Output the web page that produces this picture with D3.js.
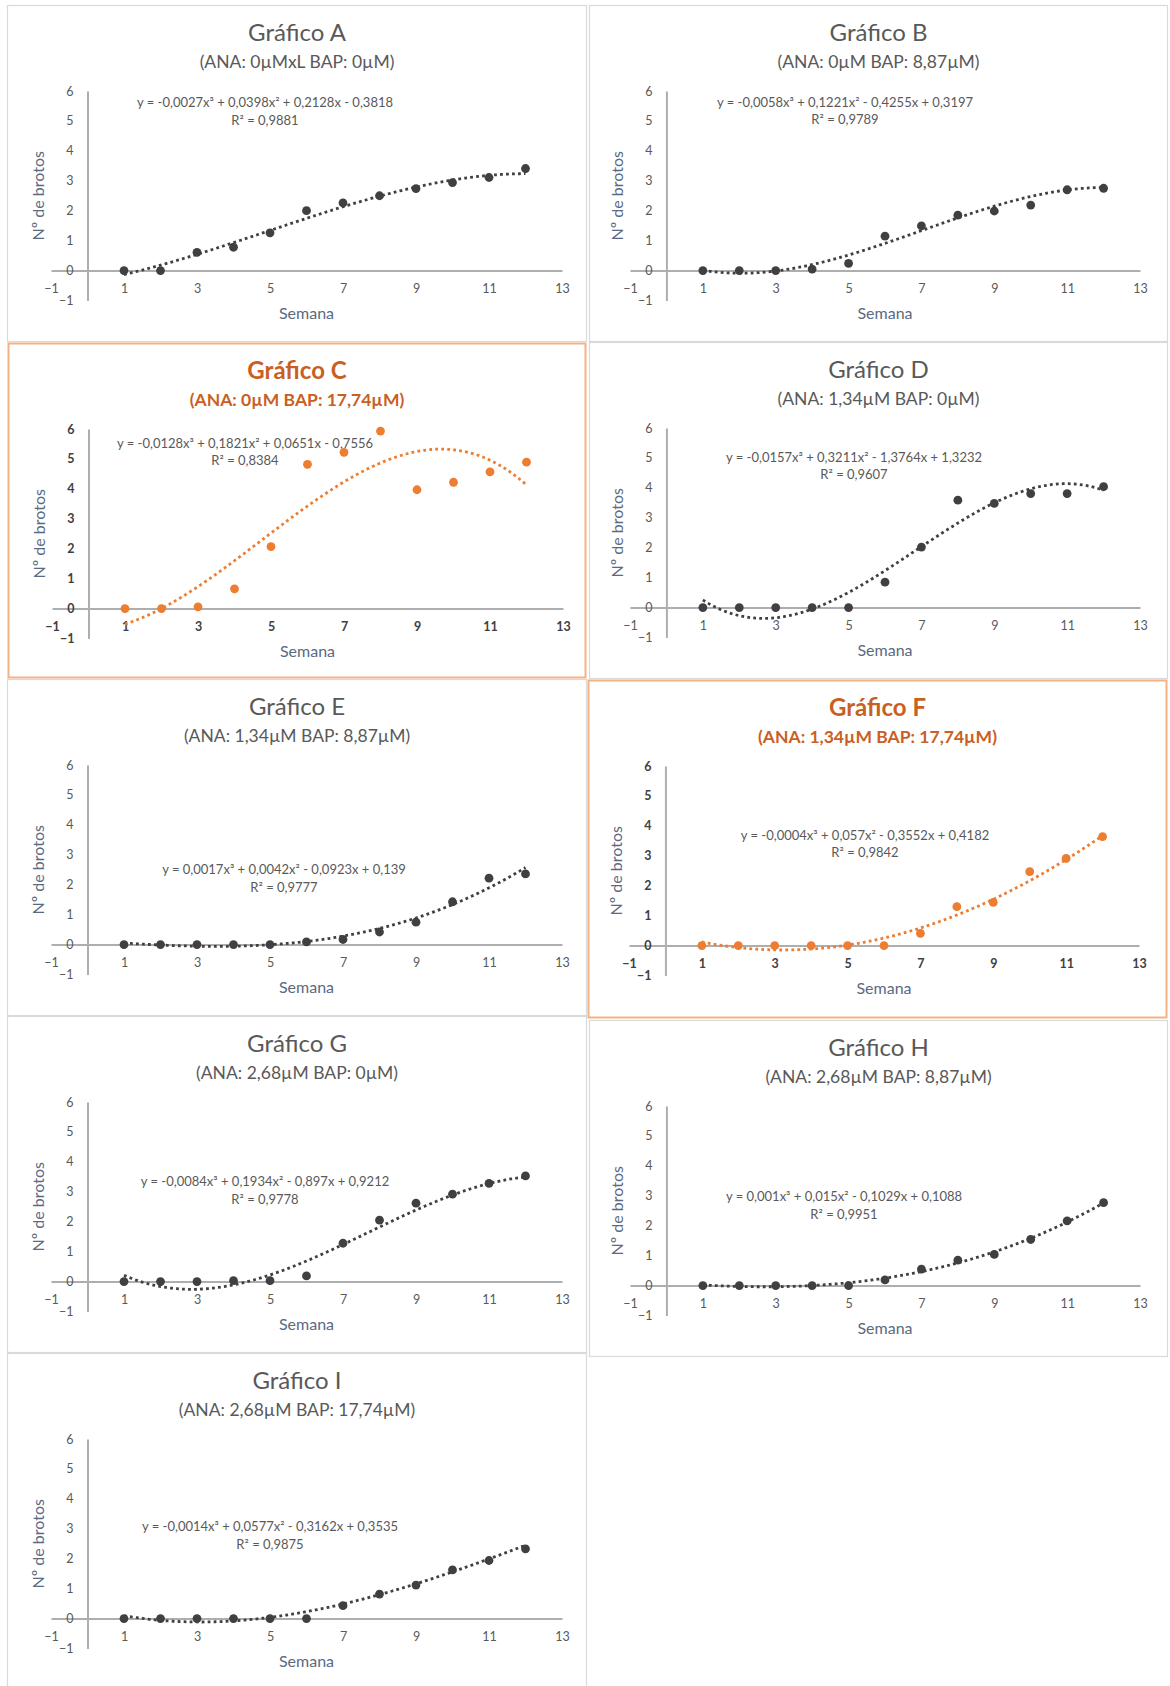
<!DOCTYPE html>
<html>
<head>
<meta charset="utf-8">
<script src="https://cdn.jsdelivr.net/npm/d3@7"></script>
<style>
  html, body { margin: 0; padding: 0; background: #ffffff; }
  svg { display: block; font-family: Lato, "Open Sans", sans-serif; }
</style>
</head>
<body>
<svg id="chart" width="1170" height="1686"></svg>
<script>
// ---- data -------------------------------------------------------------
const weeks = [1, 2, 3, 4, 5, 6, 7, 8, 9, 10, 11, 12];
const chartNames = ["A", "B", "C", "D", "E", "F", "G", "H", "I"];
const treatments = [
  "(ANA: 0µMxL BAP: 0µM)",
  "(ANA: 0µM BAP: 8,87µM)",
  "(ANA: 0µM BAP: 17,74µM)",
  "(ANA: 1,34µM BAP: 0µM)",
  "(ANA: 1,34µM BAP: 8,87µM)",
  "(ANA: 1,34µM BAP: 17,74µM)",
  "(ANA: 2,68µM BAP: 0µM)",
  "(ANA: 2,68µM BAP: 8,87µM)",
  "(ANA: 2,68µM BAP: 17,74µM)"
];

// mean number of shoots per week, one array per treatment
const brotosA = [0, 0, 0.61, 0.78, 1.26, 2.00, 2.26, 2.50, 2.74, 2.94, 3.11, 3.41];
const brotosB = [0, 0, 0, 0.05, 0.24, 1.15, 1.49, 1.85, 1.99, 2.19, 2.70, 2.75];
const brotosC = [0, 0, 0.06, 0.66, 2.07, 4.82, 5.22, 5.93, 3.97, 4.22, 4.57, 4.89];
const brotosD = [0, 0, 0, 0, 0, 0.85, 2.02, 3.59, 3.48, 3.81, 3.81, 4.04];
const brotosE = [0, 0, 0, 0, 0, 0.09, 0.17, 0.42, 0.75, 1.43, 2.22, 2.36];
const brotosF = [0, 0, 0, 0, 0, 0, 0.41, 1.30, 1.44, 2.47, 2.91, 3.64];
const brotosG = [0, 0, 0, 0.03, 0.03, 0.19, 1.28, 2.05, 2.62, 2.92, 3.28, 3.53];
const brotosH = [0, 0, 0, 0, 0, 0.19, 0.55, 0.85, 1.04, 1.54, 2.16, 2.77];
const brotosI = [0, 0, 0, 0, 0, 0, 0.43, 0.82, 1.12, 1.63, 1.94, 2.33];

// cubic trendline coefficients [x³, x², x, constant]
const coefA = [-0.0027, 0.0398, 0.2128, -0.3818];
const coefB = [-0.0058, 0.1221, -0.4255, 0.3197];
const coefC = [-0.0128, 0.1821, 0.0651, -0.7556];
const coefD = [-0.0157, 0.3211, -1.3764, 1.3232];
const coefE = [0.0017, 0.0042, -0.0923, 0.139];
const coefF = [-0.0004, 0.057, -0.3552, 0.4182];
const coefG = [-0.0084, 0.1934, -0.897, 0.9212];
const coefH = [0.001, 0.015, -0.1029, 0.1088];
const coefI = [-0.0014, 0.0577, -0.3162, 0.3535];
const r2Values = [0.9881, 0.9789, 0.8384, 0.9607, 0.9777, 0.9842, 0.9778, 0.9951, 0.9875];

const highlighted = ["C", "F"];
const xTicks = [-1, 1, 3, 5, 7, 9, 11, 13];
const yTicks = [-1, 0, 1, 2, 3, 4, 5, 6];
const xTitle = "Semana";
const yTitle = "Nº de brotos";

const seriesList = [brotosA, brotosB, brotosC, brotosD, brotosE, brotosF, brotosG, brotosH, brotosI];
const coefList = [coefA, coefB, coefC, coefD, coefE, coefF, coefG, coefH, coefI];

// ---- layout -----------------------------------------------------------
// panel boxes [x, y, w, h] and equation label anchor [cx, eqY, r2Y]
const layout = {
  A: { box: [7, 5, 580, 337],     eq: [258, 97, 115] },
  B: { box: [589, 5, 579, 337],   eq: [256, 97, 114] },
  C: { box: [8, 343, 578, 335],   eq: [237, 100, 117] },
  D: { box: [589, 342, 579, 337], eq: [265, 115, 132] },
  E: { box: [7, 679, 580, 337],   eq: [277, 190, 208] },
  F: { box: [588, 680, 579, 338], eq: [277, 155, 172] },
  G: { box: [7, 1016, 580, 337],  eq: [258, 165, 183] },
  H: { box: [589, 1020, 579, 337], eq: [255, 176, 194] },
  I: { box: [7, 1353, 580, 345],  eq: [263, 173, 191] }
};

const GREY = "#404040";
const ORANGE = "#ED7D31";
const TITLE_GREY = "#595959";
const TITLE_ORANGE = "#C95F22";
const AXIS_TITLE = "#5A6A82";

const svg = d3.select("#chart");

function fmt(v) {
  return String(Math.abs(v)).replace(".", ",");
}
function equationText(c) {
  const pow = ["x³", "x²", "x", ""];
  let s = "y = " + (c[0] < 0 ? "-" : "") + fmt(c[0]) + pow[0];
  for (let i = 1; i < 4; i++) {
    s += (c[i] < 0 ? " - " : " + ") + fmt(c[i]) + pow[i];
  }
  return s;
}
function cubic(c, x) {
  return c[0] * x * x * x + c[1] * x * x + c[2] * x + c[3];
}

chartNames.forEach((name, i) => {
  const cfg = layout[name];
  const [bx, by, bw, bh] = cfg.box;
  const isHot = highlighted.includes(name);
  const rightCol = bx > 500;
  const markColor = isHot ? ORANGE : GREY;

  const g = svg.append("g").attr("transform", `translate(${bx},${by})`);

  // frame
  g.append("rect")
    .attr("x", 0.5).attr("y", 0.5)
    .attr("width", bw - 1).attr("height", bh - 1)
    .attr("fill", "#ffffff")
    .attr("stroke", isHot ? "#F4B183" : "#DADADA")
    .attr("stroke-width", isHot ? 2 : 1.2);

  const x = d3.scaleLinear().domain([-1, 13]).range(rightCol ? [41, 551] : [44, 555]);
  const y = d3.scaleLinear().domain([-1, 6]).range([295.5, 86]);

  // titles
  g.append("text")
    .attr("x", bw / 2).attr("y", 36)
    .attr("text-anchor", "middle")
    .attr("font-size", 24)
    .attr("font-weight", isHot ? 700 : 400)
    .attr("fill", isHot ? TITLE_ORANGE : TITLE_GREY)
    .text("Gráfico " + name);
  g.append("text")
    .attr("x", bw / 2).attr("y", 63)
    .attr("text-anchor", "middle")
    .attr("font-size", 17.5)
    .attr("font-weight", isHot ? 700 : 400)
    .attr("fill", isHot ? TITLE_ORANGE : TITLE_GREY)
    .text(treatments[i]);

  // axes crossing at the origin
  const tickWeight = isHot ? 700 : 400;
  const tickFill = isHot ? "#404040" : "#595959";

  const xAxis = g.append("g")
    .attr("transform", `translate(0,${y(0)})`)
    .call(d3.axisBottom(x).tickValues(xTicks).tickSize(0).tickPadding(14).tickFormat(d3.format("d")));
  const yAxis = g.append("g")
    .attr("transform", `translate(${x(0)},0)`)
    .call(d3.axisLeft(y).tickValues(yTicks).tickSize(0).tickPadding(14).tickFormat(d3.format("d")));

  [xAxis, yAxis].forEach(ax => {
    ax.select(".domain").attr("stroke", "#AEAEAE").attr("stroke-width", 2);
    ax.selectAll("text")
      .attr("font-family", "Lato, sans-serif")
      .attr("font-size", 12.5)
      .attr("font-weight", tickWeight)
      .attr("fill", tickFill);
  });

  // axis titles
  g.append("text")
    .attr("transform", `translate(${x(-1) - 11},${(y(-1) + y(6)) / 2}) rotate(-90)`)
    .attr("text-anchor", "middle")
    .attr("dominant-baseline", "middle")
    .attr("font-size", 16)
    .attr("fill", AXIS_TITLE)
    .text(yTitle);
  g.append("text")
    .attr("x", (x(-1) + x(13)) / 2).attr("y", 314)
    .attr("text-anchor", "middle")
    .attr("font-size", 16)
    .attr("fill", AXIS_TITLE)
    .text(xTitle);

  // trendline label
  const coef = coefList[i];
  const [ex, ey, ry] = cfg.eq;
  g.append("text")
    .attr("x", ex).attr("y", ey + 4.5)
    .attr("text-anchor", "middle")
    .attr("font-size", 13)
    .attr("fill", "#595959")
    .text(equationText(coef));
  g.append("text")
    .attr("x", ex).attr("y", ry + 4.5)
    .attr("text-anchor", "middle")
    .attr("font-size", 13)
    .attr("fill", "#595959")
    .text("R² = " + fmt(r2Values[i]));

  // data points
  const pts = weeks.map((w, k) => ({ w, v: seriesList[i][k] }));
  g.selectAll("circle.pt")
    .data(pts)
    .join("circle")
    .attr("class", "pt")
    .attr("cx", d => x(d.w))
    .attr("cy", d => y(d.v))
    .attr("r", 4.4)
    .attr("fill", markColor);

  // polynomial trendline from the stated coefficients
  const xs = d3.range(weeks[0], weeks[weeks.length - 1] + 0.001, 0.05);
  const line = d3.line().x(d => x(d)).y(d => y(cubic(coef, d))).curve(d3.curveLinear);
  g.append("path")
    .datum(xs)
    .attr("d", line)
    .attr("fill", "none")
    .attr("stroke", markColor)
    .attr("stroke-width", 2.8)
    .attr("stroke-dasharray", "2.8 3.2");
});
</script>
</body>
</html>
